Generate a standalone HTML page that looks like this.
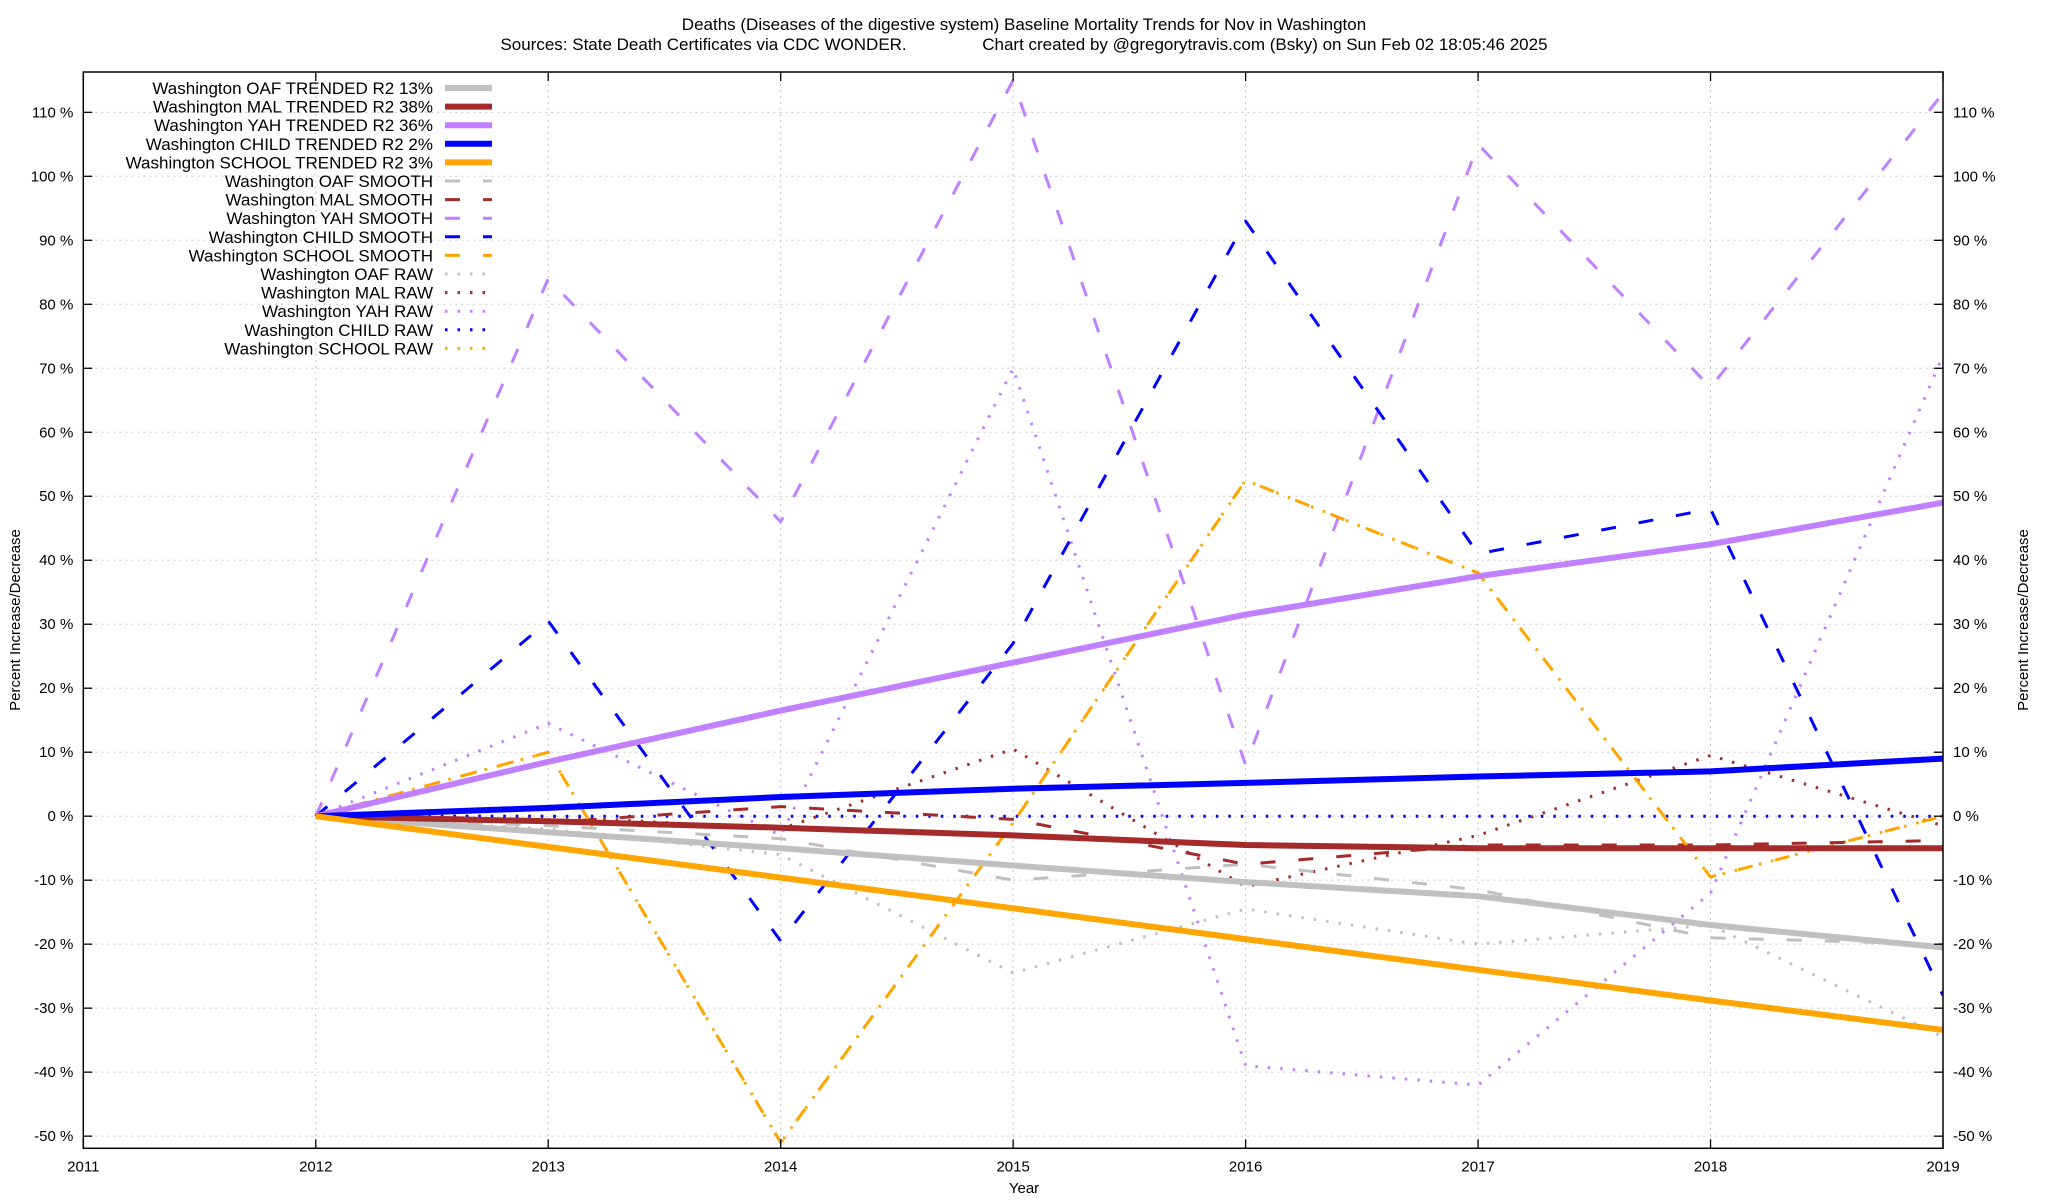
<!DOCTYPE html>
<html><head><meta charset="utf-8"><style>
html,body{margin:0;padding:0;background:#fff;}
svg{display:block;font-family:"Liberation Sans",sans-serif;}
</style></head><body>
<svg id="chart" width="2048" height="1200" viewBox="0 0 2048 1200">
<text x="1024" y="30" font-size="17" text-anchor="middle">Deaths (Diseases of the digestive system)  Baseline Mortality Trends for Nov in Washington</text>
<text x="1024" y="50" font-size="17" text-anchor="middle" xml:space="preserve">Sources: State Death Certificates via CDC WONDER.                Chart created by @gregorytravis.com (Bsky) on Sun Feb 02 18:05:46 2025</text>
<g id="grid"></g>
<g id="series"></g>
<g id="axes"></g>
<g id="legend"></g>
<text x="1024" y="1193" font-size="15" text-anchor="middle">Year</text>
<text transform="translate(20,620) rotate(-90)" font-size="15" text-anchor="middle">Percent Increase/Decrease</text>
<text transform="translate(2028,620) rotate(-90)" font-size="15" text-anchor="middle">Percent Increase/Decrease</text>
</svg>
<script>
const years = [2012,2013,2014,2015,2016,2017,2018,2019];
const xTicks = [2011,2012,2013,2014,2015,2016,2017,2018,2019];
const yTicks = [-50,-40,-30,-20,-10,0,10,20,30,40,50,60,70,80,90,100,110];
const oafTrend = [0,-2.5,-5,-7.7,-10.3,-12.5,-17,-20.5];
const malTrend = [0,-0.8,-1.8,-3,-4.5,-5,-5,-5];
const yahTrend = [0,8.5,16.5,24,31.5,37.5,42.5,49];
const childTrend = [0,1.3,3,4.3,5.2,6.2,7,9];
const schoolTrend = [0,-4.8,-9.6,-14.4,-19.2,-24,-28.8,-33.4];
const oafSmooth = [0,-1.5,-3.5,-10,-7.5,-11.5,-19,-20];
const malSmooth = [0,-1,1.5,-0.5,-7.5,-4.5,-4.5,-3.8];
const yahSmooth = [0,84,46,115,8,105,67,113];
const childSmooth = [0,30.5,-19.5,27,93,41,48,-28];
const schoolSmooth = [0,10,-51,-1,52.5,38,-9.5,0];
const oafRaw = [0,-2,-6,-24.5,-14.5,-20,-17,-34.5];
const malRaw = [0,0,-2,10.5,-11,-3,9.5,-1.5];
const yahRaw = [0,14.5,-3,70,-39,-42,-12,72];
const childRaw = [0,0,0,0,0,0,0,0];
const schoolRaw = [0,10,-51,-1,52.5,38,-9.5,0];
const legendLabels = ["Washington OAF TRENDED R2  13%","Washington MAL TRENDED R2  38%","Washington YAH TRENDED R2  36%","Washington CHILD TRENDED R2   2%","Washington SCHOOL TRENDED R2   3%","Washington OAF SMOOTH","Washington MAL SMOOTH","Washington YAH SMOOTH","Washington CHILD SMOOTH","Washington SCHOOL SMOOTH","Washington OAF RAW","Washington MAL RAW","Washington YAH RAW","Washington CHILD RAW","Washington SCHOOL RAW"];

const NS="http://www.w3.org/2000/svg";
const L=83.3,R=1943,T=72,B=1148.3;
const X0=2011,X1=2019,Y0=-51.9,Y1=116.3;
const xs=v=>L+(v-X0)/(X1-X0)*(R-L);
const ys=v=>B-(v-Y0)/(Y1-Y0)*(B-T);
function mk(tag,attrs,parent){const e=document.createElementNS(NS,tag);for(const k in attrs)e.setAttribute(k,attrs[k]);parent.appendChild(e);return e;}
const grid=document.getElementById('grid'),axes=document.getElementById('axes'),ser=document.getElementById('series'),leg=document.getElementById('legend');

xTicks.forEach(t=>{
  const x=xs(t);
  if(t!==X0){const g=mk('line',{x1:x,x2:x,y1:T,y2:B,stroke:'#c8c8c8','stroke-width':1,'stroke-dasharray':'2 4'},grid);
  
  }
  const tk=mk('line',{x1:x,x2:x,y1:B,y2:B-9,stroke:'#000','stroke-width':1.3},axes);
  
  
  const tk2=mk('line',{x1:x,x2:x,y1:T,y2:T+9,stroke:'#000','stroke-width':1.3},axes);
  
  
  const tx=mk('text',{x:x,y:B+23,'font-size':15,'text-anchor':'middle'},axes);
  tx.textContent=t;
  
  
});
yTicks.forEach(t=>{
  const y=ys(t);
  const g=mk('line',{x1:L,x2:R,y1:y,y2:y,stroke:'#c8c8c8','stroke-width':1,'stroke-dasharray':'2 4'},grid);
  
  
  const a=mk('line',{x1:L,x2:L+9,y1:y,y2:y,stroke:'#000','stroke-width':1.3},axes);
  
  
  const b=mk('line',{x1:R-9,x2:R,y1:y,y2:y,stroke:'#000','stroke-width':1.3},axes);
  
  
  const l=mk('text',{x:L-10,y:y+5,'font-size':15,'text-anchor':'end'},axes);
  l.textContent=t+' %';
  
  
  const r=mk('text',{x:R+10,y:y+5,'font-size':15,'text-anchor':'start'},axes);
  r.textContent=t+' %';
  
  
});
const frame=mk('rect',{x:L,y:T,width:R-L,height:B-T,fill:'none',stroke:'#000','stroke-width':1.5},axes);



const C={oaf:'#c0c0c0',mal:'#a52a2a',yah:'#c080ff',child:'#0000ff',school:'#ffa500'};
const styles={trend:{w:6,d:null},smooth:{w:3,d:'15 23'},raw:{w:3,d:'2.5 10'}};
const defs=[
 ['oaf-raw',oafRaw,C.oaf,'raw'],['mal-raw',malRaw,C.mal,'raw'],['yah-raw',yahRaw,C.yah,'raw'],['child-raw',childRaw,C.child,'raw'],['school-raw',schoolRaw,C.school,'raw'],
 ['oaf-smooth',oafSmooth,C.oaf,'smooth'],['mal-smooth',malSmooth,C.mal,'smooth'],['yah-smooth',yahSmooth,C.yah,'smooth'],['child-smooth',childSmooth,C.child,'smooth'],['school-smooth',schoolSmooth,C.school,'smooth'],
 ['oaf-trend',oafTrend,C.oaf,'trend'],['mal-trend',malTrend,C.mal,'trend'],['yah-trend',yahTrend,C.yah,'trend'],['child-trend',childTrend,C.child,'trend'],['school-trend',schoolTrend,C.school,'trend']
];
const clip=mk('clipPath',{id:'pc'},mk('defs',{},ser));
mk('rect',{x:L,y:T,width:R-L,height:B-T},clip);
defs.forEach(([name,vals,col,kind])=>{
  const st=styles[kind];
  const pts=vals.map((v,i)=>xs(years[i]).toFixed(1)+','+ys(v).toFixed(1)).join(' ');
  const a={points:pts,fill:'none',stroke:col,'stroke-width':st.w,'stroke-linejoin':'round','clip-path':'url(#pc)'};
  if(st.d){a['stroke-dasharray']=st.d;}
  const p=mk('polyline',a,ser);
  
  
});
const legStyles=[['trend',C.oaf],['trend',C.mal],['trend',C.yah],['trend',C.child],['trend',C.school],['smooth',C.oaf],['smooth',C.mal],['smooth',C.yah],['smooth',C.child],['smooth',C.school],['raw',C.oaf],['raw',C.mal],['raw',C.yah],['raw',C.child],['raw',C.school]];
legendLabels.forEach((lab,i)=>{
  const y=88+i*18.6;
  const g=mk('g',{},leg);
  
  
  const t=mk('text',{x:433,y:y+6,'font-size':17,'text-anchor':'end','xml:space':'preserve'},g);
  t.textContent=lab;
  const st=styles[legStyles[i][0]];
  const a={x1:445,x2:492,y1:y,y2:y,stroke:legStyles[i][1],'stroke-width':st.w};
  if(st.d)a['stroke-dasharray']=st.d;
  mk('line',a,g);
});
</script>
</body></html>
